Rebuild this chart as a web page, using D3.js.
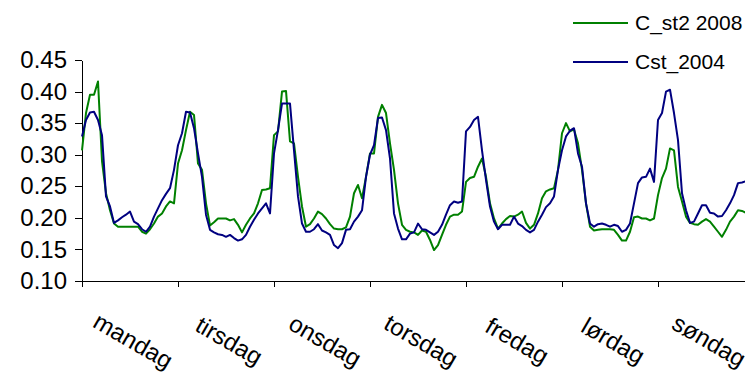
<!DOCTYPE html>
<html>
<head>
<meta charset="utf-8">
<script src="https://cdn.jsdelivr.net/npm/d3@7"></script>
<style>
  body { margin: 0; background: #fff; }
  text { font-family: "Liberation Sans", Arial, sans-serif; fill: #000; }
</style>
</head>
<body>
<div id="holder"></div>
<script>
var width = 745;
var height = 374;

// hourly values, monday 00 -> sunday 23
var cSt2_2008 = [
  0.307,0.366,0.395,0.395,0.416,0.290,0.239,0.212,0.191,0.186,0.186,0.186,0.186,0.186,0.186,0.178,0.175,0.182,0.191,0.202,0.207,0.218,0.226,0.223,
  0.286,0.307,0.339,0.368,0.363,0.286,0.276,0.223,0.188,0.193,0.199,0.199,0.199,0.196,0.198,0.189,0.177,0.189,0.199,0.207,0.223,0.244,0.245,0.247,
  0.331,0.337,0.400,0.401,0.321,0.318,0.265,0.218,0.186,0.190,0.199,0.210,0.206,0.199,0.190,0.183,0.182,0.182,0.185,0.202,0.239,0.252,0.231,0.265,
  0.302,0.302,0.360,0.379,0.366,0.318,0.276,0.223,0.189,0.181,0.178,0.177,0.173,0.180,0.178,0.165,0.149,0.157,0.173,0.189,0.202,0.205,0.205,0.210,
  0.257,0.263,0.265,0.281,0.294,0.265,0.223,0.199,0.183,0.191,0.198,0.203,0.202,0.205,0.210,0.192,0.183,0.189,0.207,0.231,0.242,0.245,0.247,0.276,
  0.334,0.350,0.337,0.340,0.318,0.276,0.223,0.186,0.180,0.181,0.182,0.182,0.182,0.181,0.173,0.164,0.164,0.178,0.201,0.202,0.199,0.199,0.196,0.199,
  0.236,0.263,0.278,0.310,0.307,0.249,0.226,0.202,0.192,0.190,0.189,0.194,0.198,0.194,0.186,0.178,0.170,0.181,0.194,0.202,0.212,0.211,0.208,0.205
];
var cst_2004 = [
  0.329,0.355,0.367,0.368,0.355,0.331,0.234,0.218,0.192,0.196,0.201,0.205,0.210,0.194,0.190,0.182,0.178,0.186,0.202,0.215,0.228,0.238,0.247,0.276,
  0.315,0.334,0.368,0.367,0.342,0.302,0.265,0.205,0.181,0.177,0.174,0.173,0.170,0.173,0.168,0.164,0.166,0.173,0.186,0.197,0.207,0.215,0.223,0.207,
  0.302,0.339,0.381,0.381,0.381,0.307,0.234,0.191,0.178,0.178,0.182,0.190,0.180,0.177,0.173,0.157,0.152,0.160,0.181,0.182,0.194,0.202,0.212,0.265,
  0.300,0.315,0.358,0.359,0.339,0.294,0.207,0.183,0.166,0.166,0.175,0.177,0.191,0.182,0.181,0.177,0.173,0.178,0.189,0.205,0.220,0.226,0.224,0.226,
  0.337,0.344,0.355,0.360,0.307,0.260,0.218,0.194,0.182,0.189,0.189,0.189,0.202,0.191,0.187,0.181,0.177,0.181,0.194,0.205,0.217,0.223,0.234,0.276,
  0.307,0.329,0.338,0.342,0.302,0.281,0.223,0.191,0.186,0.190,0.191,0.189,0.186,0.189,0.187,0.178,0.181,0.191,0.223,0.255,0.264,0.265,0.278,0.257,
  0.355,0.366,0.400,0.403,0.366,0.323,0.239,0.212,0.192,0.194,0.207,0.220,0.220,0.208,0.207,0.202,0.203,0.212,0.223,0.236,0.255,0.256,0.258,0.260
];
var days = ["mandag", "tirsdag", "onsdag", "torsdag", "fredag", "lørdag", "søndag"];
var yTicks = [0.10, 0.15, 0.20, 0.25, 0.30, 0.35, 0.40, 0.45];
var seriesNames = ["C_st2 2008", "Cst_2004"];
var seriesColors = ["#008000", "#000080"];

var plotLeft = 82, plotTop = 60, plotBottom = 281;
var dayWidth = 96;
var hoursPerDay = 24;

var svg = d3.select("#holder")
  .append("svg")
  .attr("width", width)
  .attr("height", height);

var x = d3.scaleLinear()
  .domain([0, days.length * hoursPerDay])
  .range([plotLeft, plotLeft + dayWidth * days.length]);

var y = d3.scaleLinear()
  .domain([0.10, 0.45])
  .range([plotBottom, plotTop]);

// y axis
var yAxis = svg.append("g")
  .attr("transform", "translate(" + plotLeft + ",0)")
  .call(d3.axisLeft(y).tickValues(yTicks).tickFormat(d3.format(".2f")).tickSize(7).tickSizeOuter(0).tickPadding(8));
yAxis.selectAll("text").style("font-size", "24px");

// x axis, ticks at day boundaries
var xTicks = d3.range(0, days.length * hoursPerDay + 1, hoursPerDay);
svg.append("g")
  .attr("transform", "translate(0," + plotBottom + ")")
  .call(d3.axisBottom(x).tickValues(xTicks).tickFormat("").tickSize(6).tickSizeOuter(0));

svg.selectAll(".domain, .tick line")
  .attr("stroke", "#000")
  .attr("shape-rendering", "crispEdges");
svg.selectAll(".tick text").attr("fill", "#000");

// rotated day labels
svg.append("g")
  .selectAll("text")
  .data(days)
  .enter().append("text")
  .attr("text-anchor", "middle")
  .style("font-size", "24px")
  .attr("transform", function(d, i) {
    var cx = x(i * hoursPerDay + hoursPerDay / 2) - 1;
    return "translate(" + cx + ",348) rotate(30)";
  })
  .text(d => d);

// lines
var line = d3.line()
  .x((d, i) => x(i))
  .y(d => y(d));

[cSt2_2008, cst_2004].forEach(function(s, k) {
  svg.append("path")
    .datum(s)
    .attr("fill", "none")
    .attr("stroke", seriesColors[k])
    .attr("stroke-width", 2)
    .attr("stroke-linejoin", "round")
    .attr("d", line);
});

// legend
var legend = svg.append("g")
  .selectAll("g")
  .data(seriesNames)
  .enter().append("g")
  .attr("transform", (d, i) => "translate(573," + (23 + i * 39) + ")");
legend.append("line")
  .attr("x1", 0).attr("x2", 55)
  .attr("stroke", (d, i) => seriesColors[i])
  .attr("stroke-width", 2);
legend.append("text")
  .attr("x", 62)
  .attr("y", 7)
  .style("font-size", "21px")
  .text(d => d);
</script>
</body>
</html>
